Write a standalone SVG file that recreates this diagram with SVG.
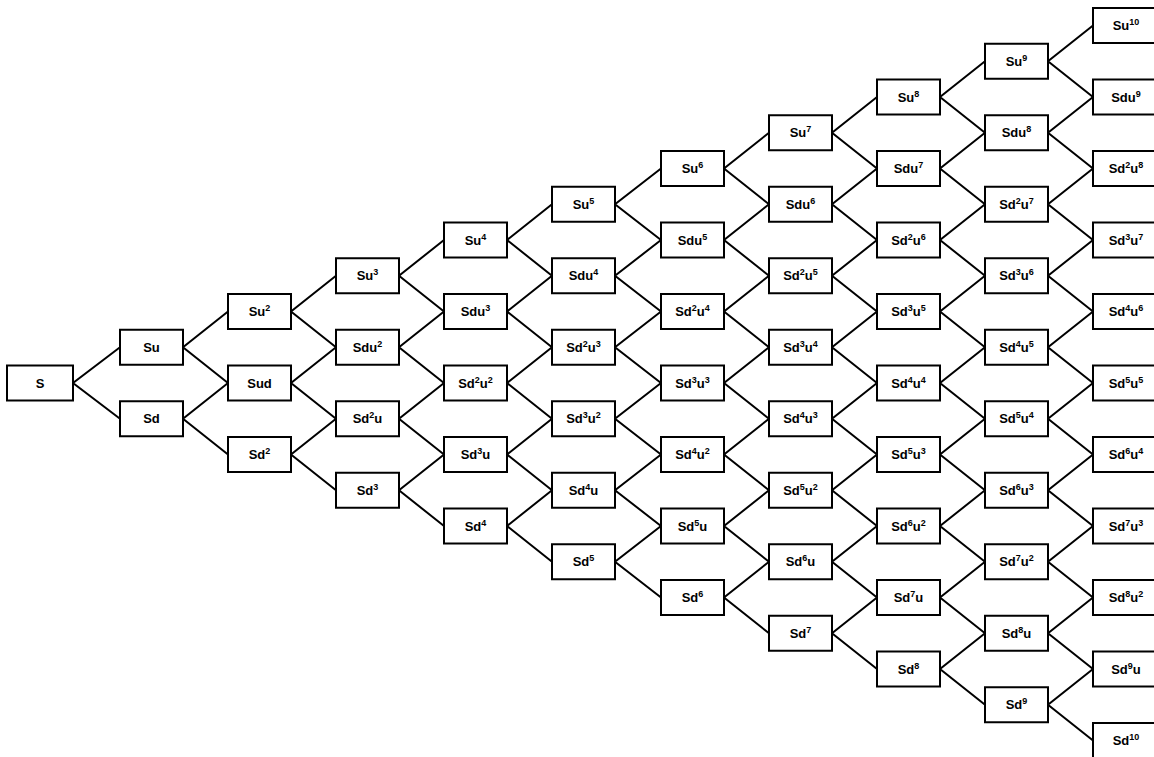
<svg xmlns="http://www.w3.org/2000/svg" width="1154" height="757" viewBox="0 0 1154 757">
<style>
rect{fill:#fff;stroke:#000;stroke-width:2}
text{font-family:"Liberation Sans",Arial,sans-serif;font-weight:bold;font-size:13px;text-anchor:middle;fill:#000}
.p{font-size:9px}
#edges path{fill:none;stroke:#000;stroke-width:2}
</style>
<g id="edges">
<path d="M120 347.25L73 383L120 418.75"/>
<path d="M228 311.5L183 347.25L228 383"/><path d="M228 383L183 418.75L228 454.5"/>
<path d="M336 275.75L291 311.5L336 347.25"/><path d="M336 347.25L291 383L336 418.75"/><path d="M336 418.75L291 454.5L336 490.25"/>
<path d="M444 240L399 275.75L444 311.5"/><path d="M444 311.5L399 347.25L444 383"/><path d="M444 383L399 418.75L444 454.5"/><path d="M444 454.5L399 490.25L444 526"/>
<path d="M552 204.25L507 240L552 275.75"/><path d="M552 275.75L507 311.5L552 347.25"/><path d="M552 347.25L507 383L552 418.75"/><path d="M552 418.75L507 454.5L552 490.25"/><path d="M552 490.25L507 526L552 561.75"/>
<path d="M661 168.5L615 204.25L661 240"/><path d="M661 240L615 275.75L661 311.5"/><path d="M661 311.5L615 347.25L661 383"/><path d="M661 383L615 418.75L661 454.5"/><path d="M661 454.5L615 490.25L661 526"/><path d="M661 526L615 561.75L661 597.5"/>
<path d="M769 132.75L724 168.5L769 204.25"/><path d="M769 204.25L724 240L769 275.75"/><path d="M769 275.75L724 311.5L769 347.25"/><path d="M769 347.25L724 383L769 418.75"/><path d="M769 418.75L724 454.5L769 490.25"/><path d="M769 490.25L724 526L769 561.75"/><path d="M769 561.75L724 597.5L769 633.25"/>
<path d="M877 97L832 132.75L877 168.5"/><path d="M877 168.5L832 204.25L877 240"/><path d="M877 240L832 275.75L877 311.5"/><path d="M877 311.5L832 347.25L877 383"/><path d="M877 383L832 418.75L877 454.5"/><path d="M877 454.5L832 490.25L877 526"/><path d="M877 526L832 561.75L877 597.5"/><path d="M877 597.5L832 633.25L877 669"/>
<path d="M985 61.25L940 97L985 132.75"/><path d="M985 132.75L940 168.5L985 204.25"/><path d="M985 204.25L940 240L985 275.75"/><path d="M985 275.75L940 311.5L985 347.25"/><path d="M985 347.25L940 383L985 418.75"/><path d="M985 418.75L940 454.5L985 490.25"/><path d="M985 490.25L940 526L985 561.75"/><path d="M985 561.75L940 597.5L985 633.25"/><path d="M985 633.25L940 669L985 704.75"/>
<path d="M1093 25.5L1048 61.25L1093 97"/><path d="M1093 97L1048 132.75L1093 168.5"/><path d="M1093 168.5L1048 204.25L1093 240"/><path d="M1093 240L1048 275.75L1093 311.5"/><path d="M1093 311.5L1048 347.25L1093 383"/><path d="M1093 383L1048 418.75L1093 454.5"/><path d="M1093 454.5L1048 490.25L1093 526"/><path d="M1093 526L1048 561.75L1093 597.5"/><path d="M1093 597.5L1048 633.25L1093 669"/><path d="M1093 669L1048 704.75L1093 740.5"/>
</g>
<g id="n0-0"><rect x="7" y="365.5" width="66" height="35"/><text x="40" y="387.5">S</text></g>
<g id="n1-0"><rect x="120" y="329.75" width="63" height="35"/><text x="151.5" y="351.75">Su</text></g>
<g id="n1-1"><rect x="120" y="401.25" width="63" height="35"/><text x="151.5" y="423.25">Sd</text></g>
<g id="n2-0"><rect x="228" y="294" width="63" height="35"/><text x="259.5" y="316">Su<tspan class="p" dy="-5">2</tspan></text></g>
<g id="n2-1"><rect x="228" y="365.5" width="63" height="35"/><text x="259.5" y="387.5">Sud</text></g>
<g id="n2-2"><rect x="228" y="437" width="63" height="35"/><text x="259.5" y="459">Sd<tspan class="p" dy="-5">2</tspan></text></g>
<g id="n3-0"><rect x="336" y="258.25" width="63" height="35"/><text x="367.5" y="280.25">Su<tspan class="p" dy="-5">3</tspan></text></g>
<g id="n3-1"><rect x="336" y="329.75" width="63" height="35"/><text x="367.5" y="351.75">Sdu<tspan class="p" dy="-5">2</tspan></text></g>
<g id="n3-2"><rect x="336" y="401.25" width="63" height="35"/><text x="367.5" y="423.25">Sd<tspan class="p" dy="-5">2</tspan><tspan dy="5">u</tspan></text></g>
<g id="n3-3"><rect x="336" y="472.75" width="63" height="35"/><text x="367.5" y="494.75">Sd<tspan class="p" dy="-5">3</tspan></text></g>
<g id="n4-0"><rect x="444" y="222.5" width="63" height="35"/><text x="475.5" y="244.5">Su<tspan class="p" dy="-5">4</tspan></text></g>
<g id="n4-1"><rect x="444" y="294" width="63" height="35"/><text x="475.5" y="316">Sdu<tspan class="p" dy="-5">3</tspan></text></g>
<g id="n4-2"><rect x="444" y="365.5" width="63" height="35"/><text x="475.5" y="387.5">Sd<tspan class="p" dy="-5">2</tspan><tspan dy="5">u</tspan><tspan class="p" dy="-5">2</tspan></text></g>
<g id="n4-3"><rect x="444" y="437" width="63" height="35"/><text x="475.5" y="459">Sd<tspan class="p" dy="-5">3</tspan><tspan dy="5">u</tspan></text></g>
<g id="n4-4"><rect x="444" y="508.5" width="63" height="35"/><text x="475.5" y="530.5">Sd<tspan class="p" dy="-5">4</tspan></text></g>
<g id="n5-0"><rect x="552" y="186.75" width="63" height="35"/><text x="583.5" y="208.75">Su<tspan class="p" dy="-5">5</tspan></text></g>
<g id="n5-1"><rect x="552" y="258.25" width="63" height="35"/><text x="583.5" y="280.25">Sdu<tspan class="p" dy="-5">4</tspan></text></g>
<g id="n5-2"><rect x="552" y="329.75" width="63" height="35"/><text x="583.5" y="351.75">Sd<tspan class="p" dy="-5">2</tspan><tspan dy="5">u</tspan><tspan class="p" dy="-5">3</tspan></text></g>
<g id="n5-3"><rect x="552" y="401.25" width="63" height="35"/><text x="583.5" y="423.25">Sd<tspan class="p" dy="-5">3</tspan><tspan dy="5">u</tspan><tspan class="p" dy="-5">2</tspan></text></g>
<g id="n5-4"><rect x="552" y="472.75" width="63" height="35"/><text x="583.5" y="494.75">Sd<tspan class="p" dy="-5">4</tspan><tspan dy="5">u</tspan></text></g>
<g id="n5-5"><rect x="552" y="544.25" width="63" height="35"/><text x="583.5" y="566.25">Sd<tspan class="p" dy="-5">5</tspan></text></g>
<g id="n6-0"><rect x="661" y="151" width="63" height="35"/><text x="692.5" y="173">Su<tspan class="p" dy="-5">6</tspan></text></g>
<g id="n6-1"><rect x="661" y="222.5" width="63" height="35"/><text x="692.5" y="244.5">Sdu<tspan class="p" dy="-5">5</tspan></text></g>
<g id="n6-2"><rect x="661" y="294" width="63" height="35"/><text x="692.5" y="316">Sd<tspan class="p" dy="-5">2</tspan><tspan dy="5">u</tspan><tspan class="p" dy="-5">4</tspan></text></g>
<g id="n6-3"><rect x="661" y="365.5" width="63" height="35"/><text x="692.5" y="387.5">Sd<tspan class="p" dy="-5">3</tspan><tspan dy="5">u</tspan><tspan class="p" dy="-5">3</tspan></text></g>
<g id="n6-4"><rect x="661" y="437" width="63" height="35"/><text x="692.5" y="459">Sd<tspan class="p" dy="-5">4</tspan><tspan dy="5">u</tspan><tspan class="p" dy="-5">2</tspan></text></g>
<g id="n6-5"><rect x="661" y="508.5" width="63" height="35"/><text x="692.5" y="530.5">Sd<tspan class="p" dy="-5">5</tspan><tspan dy="5">u</tspan></text></g>
<g id="n6-6"><rect x="661" y="580" width="63" height="35"/><text x="692.5" y="602">Sd<tspan class="p" dy="-5">6</tspan></text></g>
<g id="n7-0"><rect x="769" y="115.25" width="63" height="35"/><text x="800.5" y="137.25">Su<tspan class="p" dy="-5">7</tspan></text></g>
<g id="n7-1"><rect x="769" y="186.75" width="63" height="35"/><text x="800.5" y="208.75">Sdu<tspan class="p" dy="-5">6</tspan></text></g>
<g id="n7-2"><rect x="769" y="258.25" width="63" height="35"/><text x="800.5" y="280.25">Sd<tspan class="p" dy="-5">2</tspan><tspan dy="5">u</tspan><tspan class="p" dy="-5">5</tspan></text></g>
<g id="n7-3"><rect x="769" y="329.75" width="63" height="35"/><text x="800.5" y="351.75">Sd<tspan class="p" dy="-5">3</tspan><tspan dy="5">u</tspan><tspan class="p" dy="-5">4</tspan></text></g>
<g id="n7-4"><rect x="769" y="401.25" width="63" height="35"/><text x="800.5" y="423.25">Sd<tspan class="p" dy="-5">4</tspan><tspan dy="5">u</tspan><tspan class="p" dy="-5">3</tspan></text></g>
<g id="n7-5"><rect x="769" y="472.75" width="63" height="35"/><text x="800.5" y="494.75">Sd<tspan class="p" dy="-5">5</tspan><tspan dy="5">u</tspan><tspan class="p" dy="-5">2</tspan></text></g>
<g id="n7-6"><rect x="769" y="544.25" width="63" height="35"/><text x="800.5" y="566.25">Sd<tspan class="p" dy="-5">6</tspan><tspan dy="5">u</tspan></text></g>
<g id="n7-7"><rect x="769" y="615.75" width="63" height="35"/><text x="800.5" y="637.75">Sd<tspan class="p" dy="-5">7</tspan></text></g>
<g id="n8-0"><rect x="877" y="79.5" width="63" height="35"/><text x="908.5" y="101.5">Su<tspan class="p" dy="-5">8</tspan></text></g>
<g id="n8-1"><rect x="877" y="151" width="63" height="35"/><text x="908.5" y="173">Sdu<tspan class="p" dy="-5">7</tspan></text></g>
<g id="n8-2"><rect x="877" y="222.5" width="63" height="35"/><text x="908.5" y="244.5">Sd<tspan class="p" dy="-5">2</tspan><tspan dy="5">u</tspan><tspan class="p" dy="-5">6</tspan></text></g>
<g id="n8-3"><rect x="877" y="294" width="63" height="35"/><text x="908.5" y="316">Sd<tspan class="p" dy="-5">3</tspan><tspan dy="5">u</tspan><tspan class="p" dy="-5">5</tspan></text></g>
<g id="n8-4"><rect x="877" y="365.5" width="63" height="35"/><text x="908.5" y="387.5">Sd<tspan class="p" dy="-5">4</tspan><tspan dy="5">u</tspan><tspan class="p" dy="-5">4</tspan></text></g>
<g id="n8-5"><rect x="877" y="437" width="63" height="35"/><text x="908.5" y="459">Sd<tspan class="p" dy="-5">5</tspan><tspan dy="5">u</tspan><tspan class="p" dy="-5">3</tspan></text></g>
<g id="n8-6"><rect x="877" y="508.5" width="63" height="35"/><text x="908.5" y="530.5">Sd<tspan class="p" dy="-5">6</tspan><tspan dy="5">u</tspan><tspan class="p" dy="-5">2</tspan></text></g>
<g id="n8-7"><rect x="877" y="580" width="63" height="35"/><text x="908.5" y="602">Sd<tspan class="p" dy="-5">7</tspan><tspan dy="5">u</tspan></text></g>
<g id="n8-8"><rect x="877" y="651.5" width="63" height="35"/><text x="908.5" y="673.5">Sd<tspan class="p" dy="-5">8</tspan></text></g>
<g id="n9-0"><rect x="985" y="43.75" width="63" height="35"/><text x="1016.5" y="65.75">Su<tspan class="p" dy="-5">9</tspan></text></g>
<g id="n9-1"><rect x="985" y="115.25" width="63" height="35"/><text x="1016.5" y="137.25">Sdu<tspan class="p" dy="-5">8</tspan></text></g>
<g id="n9-2"><rect x="985" y="186.75" width="63" height="35"/><text x="1016.5" y="208.75">Sd<tspan class="p" dy="-5">2</tspan><tspan dy="5">u</tspan><tspan class="p" dy="-5">7</tspan></text></g>
<g id="n9-3"><rect x="985" y="258.25" width="63" height="35"/><text x="1016.5" y="280.25">Sd<tspan class="p" dy="-5">3</tspan><tspan dy="5">u</tspan><tspan class="p" dy="-5">6</tspan></text></g>
<g id="n9-4"><rect x="985" y="329.75" width="63" height="35"/><text x="1016.5" y="351.75">Sd<tspan class="p" dy="-5">4</tspan><tspan dy="5">u</tspan><tspan class="p" dy="-5">5</tspan></text></g>
<g id="n9-5"><rect x="985" y="401.25" width="63" height="35"/><text x="1016.5" y="423.25">Sd<tspan class="p" dy="-5">5</tspan><tspan dy="5">u</tspan><tspan class="p" dy="-5">4</tspan></text></g>
<g id="n9-6"><rect x="985" y="472.75" width="63" height="35"/><text x="1016.5" y="494.75">Sd<tspan class="p" dy="-5">6</tspan><tspan dy="5">u</tspan><tspan class="p" dy="-5">3</tspan></text></g>
<g id="n9-7"><rect x="985" y="544.25" width="63" height="35"/><text x="1016.5" y="566.25">Sd<tspan class="p" dy="-5">7</tspan><tspan dy="5">u</tspan><tspan class="p" dy="-5">2</tspan></text></g>
<g id="n9-8"><rect x="985" y="615.75" width="63" height="35"/><text x="1016.5" y="637.75">Sd<tspan class="p" dy="-5">8</tspan><tspan dy="5">u</tspan></text></g>
<g id="n9-9"><rect x="985" y="687.25" width="63" height="35"/><text x="1016.5" y="709.25">Sd<tspan class="p" dy="-5">9</tspan></text></g>
<g id="n10-0"><rect x="1093" y="8" width="66" height="35"/><text x="1126" y="30">Su<tspan class="p" dy="-5">10</tspan></text></g>
<g id="n10-1"><rect x="1093" y="79.5" width="66" height="35"/><text x="1126" y="101.5">Sdu<tspan class="p" dy="-5">9</tspan></text></g>
<g id="n10-2"><rect x="1093" y="151" width="66" height="35"/><text x="1126" y="173">Sd<tspan class="p" dy="-5">2</tspan><tspan dy="5">u</tspan><tspan class="p" dy="-5">8</tspan></text></g>
<g id="n10-3"><rect x="1093" y="222.5" width="66" height="35"/><text x="1126" y="244.5">Sd<tspan class="p" dy="-5">3</tspan><tspan dy="5">u</tspan><tspan class="p" dy="-5">7</tspan></text></g>
<g id="n10-4"><rect x="1093" y="294" width="66" height="35"/><text x="1126" y="316">Sd<tspan class="p" dy="-5">4</tspan><tspan dy="5">u</tspan><tspan class="p" dy="-5">6</tspan></text></g>
<g id="n10-5"><rect x="1093" y="365.5" width="66" height="35"/><text x="1126" y="387.5">Sd<tspan class="p" dy="-5">5</tspan><tspan dy="5">u</tspan><tspan class="p" dy="-5">5</tspan></text></g>
<g id="n10-6"><rect x="1093" y="437" width="66" height="35"/><text x="1126" y="459">Sd<tspan class="p" dy="-5">6</tspan><tspan dy="5">u</tspan><tspan class="p" dy="-5">4</tspan></text></g>
<g id="n10-7"><rect x="1093" y="508.5" width="66" height="35"/><text x="1126" y="530.5">Sd<tspan class="p" dy="-5">7</tspan><tspan dy="5">u</tspan><tspan class="p" dy="-5">3</tspan></text></g>
<g id="n10-8"><rect x="1093" y="580" width="66" height="35"/><text x="1126" y="602">Sd<tspan class="p" dy="-5">8</tspan><tspan dy="5">u</tspan><tspan class="p" dy="-5">2</tspan></text></g>
<g id="n10-9"><rect x="1093" y="651.5" width="66" height="35"/><text x="1126" y="673.5">Sd<tspan class="p" dy="-5">9</tspan><tspan dy="5">u</tspan></text></g>
<g id="n10-10"><rect x="1093" y="723" width="66" height="35"/><text x="1126" y="745">Sd<tspan class="p" dy="-5">10</tspan></text></g>
</svg>
